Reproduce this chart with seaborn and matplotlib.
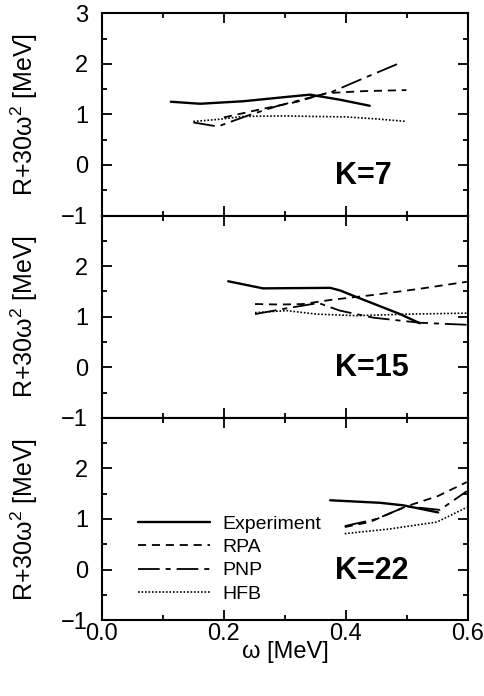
import numpy as np
import pandas as pd
import matplotlib
matplotlib.use("Agg")
import matplotlib.pyplot as plt
import seaborn as sns
from matplotlib.ticker import MultipleLocator

# ---- data ----
panel_labels = ["K=7", "K=15", "K=22"]
series_names = ["Experiment", "RPA", "PNP", "HFB"]

exp7_w = [0.113, 0.161, 0.232, 0.290, 0.341, 0.390, 0.439]
exp7_r = [1.25, 1.21, 1.26, 1.33, 1.39, 1.29, 1.17]
rpa7_w = [0.200, 0.260, 0.320, 0.368, 0.430, 0.499]
rpa7_r = [0.94, 1.10, 1.25, 1.42, 1.46, 1.48]
pnp7_w = [0.150, 0.190, 0.240, 0.286, 0.340, 0.374, 0.430, 0.491]
pnp7_r = [0.84, 0.76, 0.98, 1.16, 1.33, 1.43, 1.72, 2.03]
hfb7_w = [0.150, 0.190, 0.232, 0.300, 0.341, 0.400, 0.450, 0.499]
hfb7_r = [0.86, 0.90, 0.96, 0.97, 0.96, 0.95, 0.91, 0.86]

exp15_w = [0.207, 0.264, 0.374, 0.390, 0.417, 0.489, 0.521]
exp15_r = [1.70, 1.56, 1.57, 1.52, 1.39, 1.05, 0.87]
rpa15_w = [0.251, 0.292, 0.330, 0.374, 0.445, 0.520, 0.598]
rpa15_r = [1.25, 1.24, 1.25, 1.33, 1.43, 1.55, 1.69]
pnp15_w = [0.251, 0.300, 0.355, 0.390, 0.445, 0.521, 0.598]
pnp15_r = [1.05, 1.16, 1.27, 1.12, 0.98, 0.88, 0.84]
hfb15_w = [0.251, 0.303, 0.352, 0.417, 0.500, 0.598]
hfb15_r = [1.08, 1.12, 1.05, 1.02, 1.05, 1.07]

exp22_w = [0.374, 0.456, 0.494, 0.551]
exp22_r = [1.37, 1.32, 1.27, 1.13]
rpa22_w = [0.398, 0.439, 0.499, 0.550, 0.598]
rpa22_r = [0.84, 0.94, 1.25, 1.45, 1.73]
pnp22_w = [0.398, 0.450, 0.499, 0.554, 0.598]
pnp22_r = [0.86, 1.00, 1.25, 1.18, 1.55]
hfb22_w = [0.398, 0.470, 0.549, 0.598]
hfb22_r = [0.71, 0.80, 0.94, 1.23]

panels = [
    [(exp7_w, exp7_r), (rpa7_w, rpa7_r), (pnp7_w, pnp7_r), (hfb7_w, hfb7_r)],
    [(exp15_w, exp15_r), (rpa15_w, rpa15_r), (pnp15_w, pnp15_r), (hfb15_w, hfb15_r)],
    [(exp22_w, exp22_r), (rpa22_w, rpa22_r), (pnp22_w, pnp22_r), (hfb22_w, hfb22_r)],
]

styles = {
    "Experiment": dict(linestyle="-", lw=1.7),
    "RPA": dict(linestyle=(0, (4.5, 3.2)), lw=1.3),
    "PNP": dict(linestyle=(0, (12, 3.3, 2.8, 3.3)), lw=1.3),
    "HFB": dict(linestyle=(0, (1.0, 1.1)), lw=1.2),
}

sns.set_theme(style="ticks")
plt.rcParams["font.family"] = ["Liberation Sans", "DejaVu Sans"]
plt.rcParams["mathtext.fontset"] = "custom"
plt.rcParams["mathtext.rm"] = "Liberation Sans"
plt.rcParams["mathtext.it"] = "Liberation Sans"
plt.rcParams["axes.linewidth"] = 1.5
for k in ["text.color", "axes.labelcolor", "xtick.color", "ytick.color", "axes.edgecolor"]:
    plt.rcParams[k] = "black"

fig, axes = plt.subplots(3, 1, figsize=(4.85, 6.96), dpi=100, sharex=True)
fig.subplots_adjust(left=0.21, right=0.965, top=0.981, bottom=0.109, hspace=0)

for i, ax in enumerate(axes):
    for name, (w, r) in zip(series_names, panels[i]):
        df = pd.DataFrame({"w": w, "r": r})
        sns.lineplot(data=df, x="w", y="r", ax=ax, color="black", sort=False,
                     estimator=None, label=name, legend=False, **styles[name])
    ax.set_xlim(0, 0.6)
    ax.set_ylim(-1, 3)
    ax.xaxis.set_major_locator(MultipleLocator(0.2))
    ax.xaxis.set_minor_locator(MultipleLocator(0.1))
    ax.tick_params(which="both", direction="in", top=True, right=True, width=1.3,
                   labelsize=17)
    ax.tick_params(which="major", length=7)
    ax.tick_params(which="minor", length=3.5)
    ax.tick_params(axis="y", pad=10)
    ax.tick_params(axis="x", pad=2)
    ax.set_ylabel("R+30\u03c9$^{2}$ [MeV]", fontsize=18)
    ax.yaxis.set_label_coords(-0.168, 0.5)
    ax.set_xlabel("")
    yt = [-1, 0, 1, 2, 3] if i == 0 else [-1, 0, 1, 2]
    ax.set_yticks(yt)
    ax.set_yticklabels(["\u22121", "0", "1", "2", "3"][:len(yt)])
    ax.yaxis.set_minor_locator(MultipleLocator(0.5))
    ax.text(0.637, 0.195 if i == 0 else 0.245, panel_labels[i], transform=ax.transAxes,
            fontsize=22, fontweight="bold", ha="left", va="center")

axes[-1].set_xticks([0.0, 0.2, 0.4, 0.6])
axes[-1].set_xticklabels(["0.0", "0.2", "0.4", "0.6"])
axes[-1].set_xlabel("\u03c9 [MeV]", fontsize=17, labelpad=-3)

leg = axes[-1].legend(loc="upper left", bbox_to_anchor=(0.099, 0.52), frameon=False,
                      fontsize=14, handlelength=3.7, handletextpad=0.62,
                      labelspacing=0.3, borderaxespad=0, borderpad=0)

fig.savefig("out.png", dpi=100)
